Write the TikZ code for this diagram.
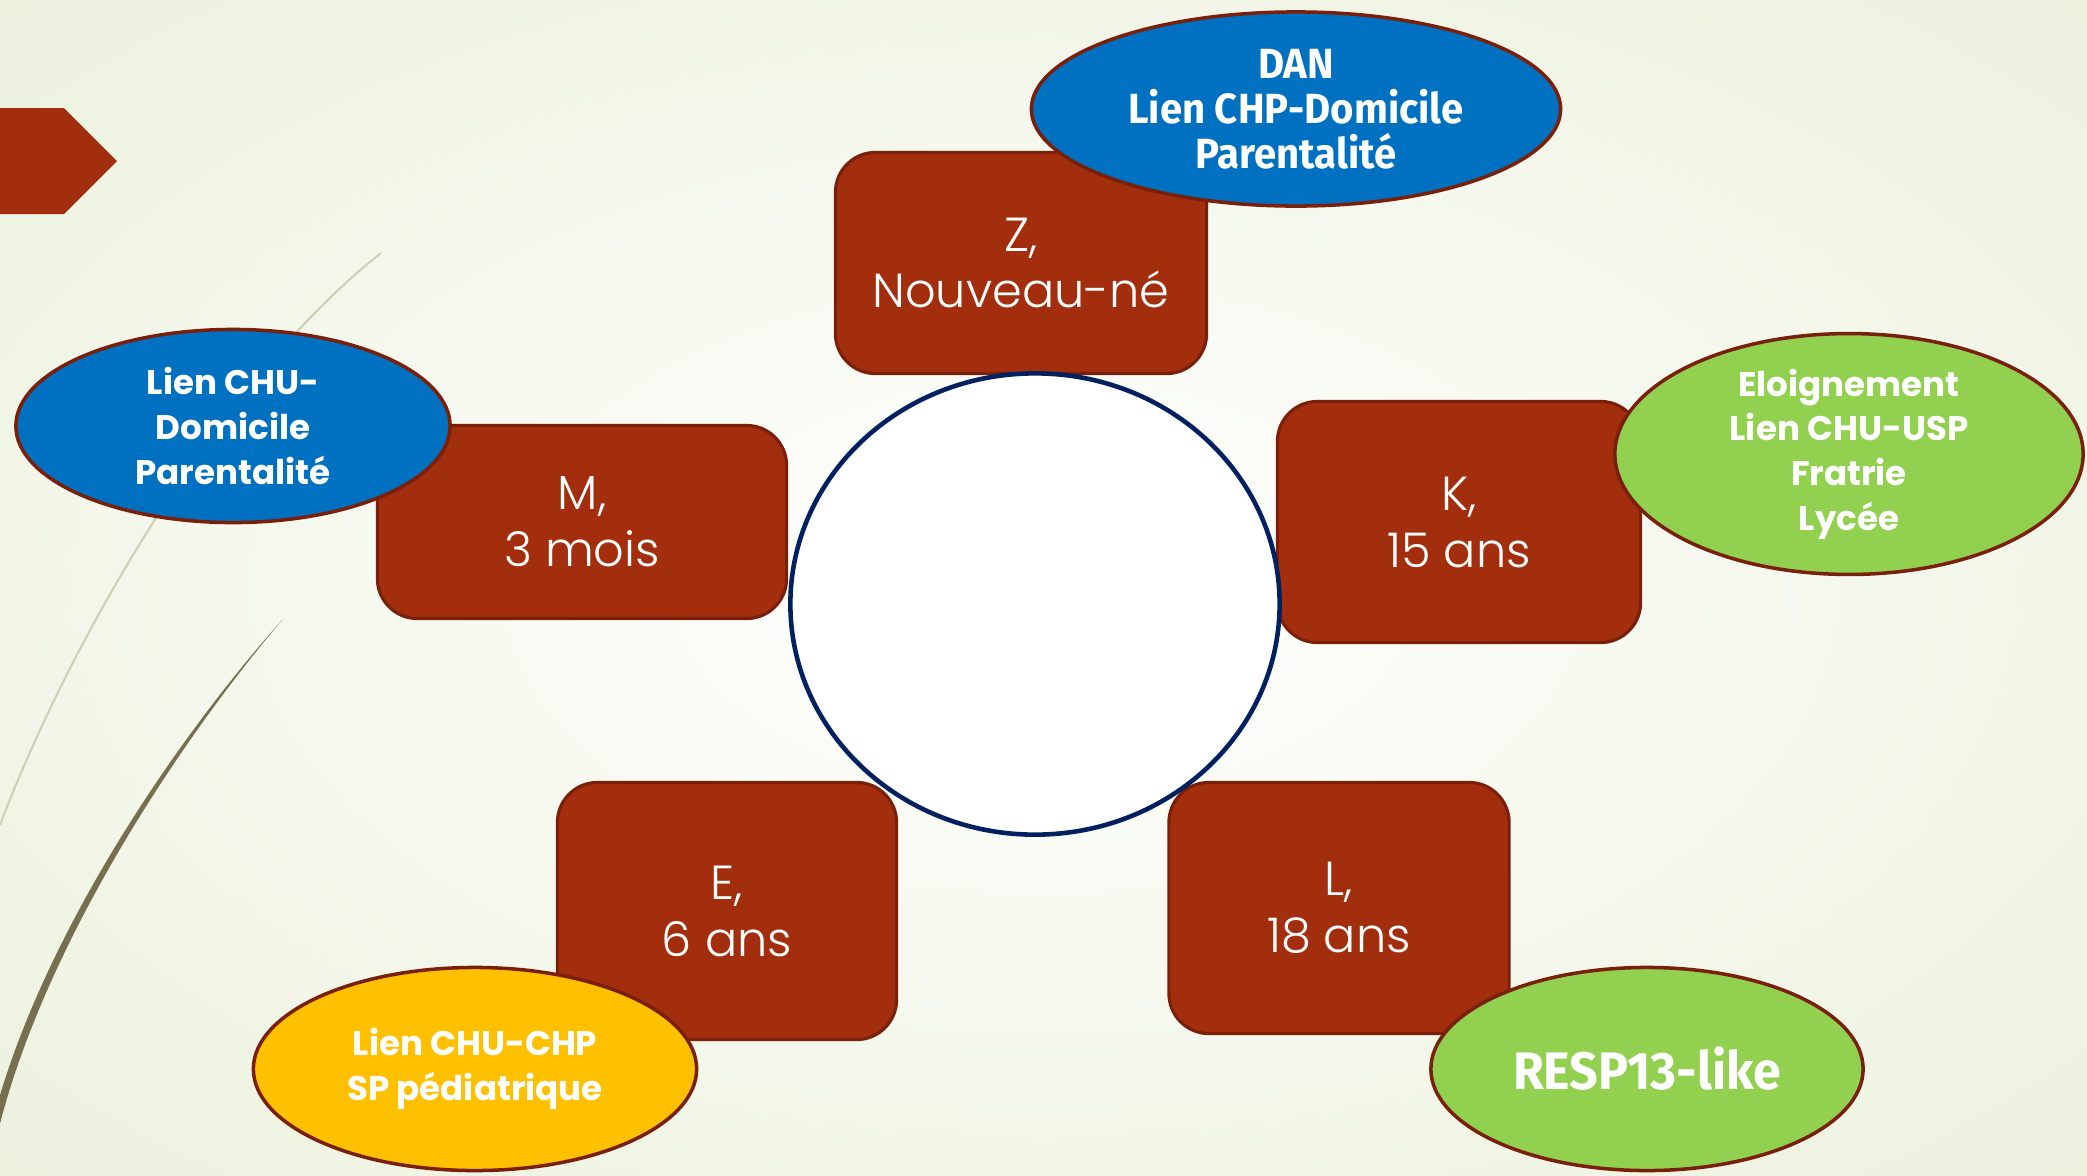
\documentclass[tikz,border=0pt]{standalone}
\usepackage{fontspec}
\setmainfont{Poppins}
\newfontfamily\thinfont{Poppins Light}
\newfontfamily\narrowfont[FakeStretch=0.95]{Fira Sans}
\usetikzlibrary{shapes.geometric}

\definecolor{brick}{RGB}{163,46,14}
\definecolor{brickline}{RGB}{122,32,10}
\definecolor{ovalblue}{RGB}{0,112,192}
\definecolor{ovalgreen}{RGB}{146,208,80}
\definecolor{ovalyellow}{RGB}{255,192,0}
\definecolor{ringblue}{RGB}{0,32,96}
\definecolor{bgpale}{RGB}{240,244,228}
\definecolor{bgouter}{RGB}{221,231,198}
\definecolor{swirllight}{RGB}{205,210,182}
\definecolor{swirldark}{RGB}{118,112,78}

\pgfdeclareradialshading{bgglow}{\pgfpoint{0bp}{0bp}}{color(0bp)=(white); color(28bp)=(bgpale); color(72bp)=(bgouter)}

\begin{document}
\begin{tikzpicture}[x=0.01cm, y=-0.01cm,
    agebox/.style={rectangle, rounded corners=0.4cm, fill=brick, draw=brickline,
      line width=0.9pt, text=white, align=center, inner sep=0pt,
      font=\thinfont\fontsize{13.6}{16.2}\selectfont},
    oval/.style={ellipse, draw=brickline, line width=1pt, text=white,
      align=center, inner sep=0pt, font=\bfseries\fontsize{9.7}{12.7}\selectfont},
    narrow/.style={font=\narrowfont\bfseries\fontsize{12}{12.8}\selectfont}]

  % background
  \useasboundingbox (0,0) rectangle (2087,1175);
  \shade[shading=bgglow] (0,0) rectangle (2087,1175);

  % 1. swirls and tag on the left
  \draw[swirllight, line width=0.6pt]
    (381,253) .. controls (220,380) and (70,640) .. (0,825);
  \fill[swirldark]
    (283,619) .. controls (180,740) and (40,950) .. (-4,1140)
    -- (-12,1140) .. controls (32,948) and (176,738) .. (283,619) -- cycle;
  \fill[brick] (0,108) -- (64,108) -- (117,161) -- (64,214) -- (0,214) -- cycle;

  % 2. the five children
  \node[agebox, minimum width=3.71cm, minimum height=2.21cm] (Z) at (1021,263) {Z,\\Nouveau-né};
  \node[agebox, minimum width=4.09cm, minimum height=1.93cm] (M) at (582,522) {M,\\3 mois};
  \node[agebox, minimum width=3.63cm, minimum height=2.41cm] (K) at (1459,522) {K,\\15 ans};
  \node[agebox, minimum width=3.39cm, minimum height=2.57cm] (E) at (727,911) {E,\\6 ans};
  \node[agebox, minimum width=3.40cm, minimum height=2.51cm] (L) at (1339,908) {L,\\18 ans};

  % 3. centre ring
  \node[ellipse, draw=ringblue, fill=white, line width=1.3pt, inner sep=0pt,
    minimum width=4.89cm, minimum height=4.61cm] (centre) at (1035,604) {};

  % 4. links
  \node[oval, narrow, fill=ovalblue, minimum width=5.29cm, minimum height=1.94cm]
    (dan) at (1296,109) {DAN\\Lien CHP-Domicile\\Parentalité};
  \node[oval, fill=ovalblue, minimum width=4.34cm, minimum height=1.93cm]
    (chudom) at (233,426) {Lien CHU-\\Domicile\\Parentalité};
  \node[oval, fill=ovalgreen, minimum width=4.68cm, minimum height=2.15cm]
    (usp) at (1849,454) {Eloignement\\Lien CHU-USP\\Fratrie\\Lycée};
  \node[oval, fill=ovalyellow, minimum width=4.43cm, minimum height=2.03cm]
    (chuchp) at (475,1069) {Lien CHU-CHP\\SP pédiatrique};
  \node[oval, narrow, fill=ovalgreen, minimum width=4.32cm, minimum height=2.03cm,
    font=\narrowfont\bfseries\fontsize{15}{16}\selectfont]
    (resp) at (1647,1069) {RESP13-like};
\end{tikzpicture}
\end{document}
